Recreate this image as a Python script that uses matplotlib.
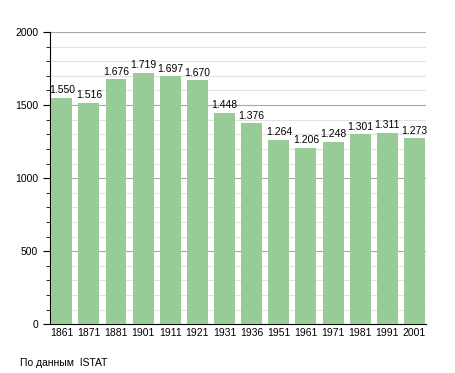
import matplotlib.pyplot as plt
from matplotlib.ticker import MultipleLocator

years = ['1861', '1871', '1881', '1901', '1911', '1921', '1931',
         '1936', '1951', '1961', '1971', '1981', '1991', '2001']
population = [1550, 1516, 1676, 1719, 1697, 1670, 1448,
              1376, 1264, 1206, 1248, 1301, 1311, 1273]

plt.rcParams['font.family'] = ['Liberation Sans', 'DejaVu Sans']

fig = plt.figure(figsize=(4.55, 3.73), dpi=100)
ax = fig.add_axes([0.110, 0.131, 0.826, 0.783])

x = range(len(years))
ax.bar(x, population, width=0.77, color='#97cc97', zorder=3)
for i, v in zip(x, population):
    ax.text(i, v + 18, f'{v:,}'.replace(',', '.'), ha='center', va='bottom',
            fontsize=7.5, zorder=4)

ax.set_xlim(-0.43, 13.42)
ax.set_ylim(0, 2000)
ax.set_xticks(list(x))
ax.set_xticklabels(years)
ax.yaxis.set_major_locator(MultipleLocator(500))
ax.yaxis.set_minor_locator(MultipleLocator(100))
ax.grid(axis='y', which='major', color='#a8a8a8', linewidth=0.8, zorder=0)
ax.grid(axis='y', which='minor', color='#e2e2e2', linewidth=0.8, zorder=0)

for s in ['top', 'right']:
    ax.spines[s].set_visible(False)
ax.tick_params(axis='x', length=0, labelsize=7.5, pad=3)
ax.tick_params(axis='y', which='major', length=5, labelsize=7.5)
ax.tick_params(axis='y', which='minor', length=3)

fig.text(0.044, 0.02, 'По данным  ISTAT', fontsize=7.5)

fig.savefig('out.png', dpi=100)
